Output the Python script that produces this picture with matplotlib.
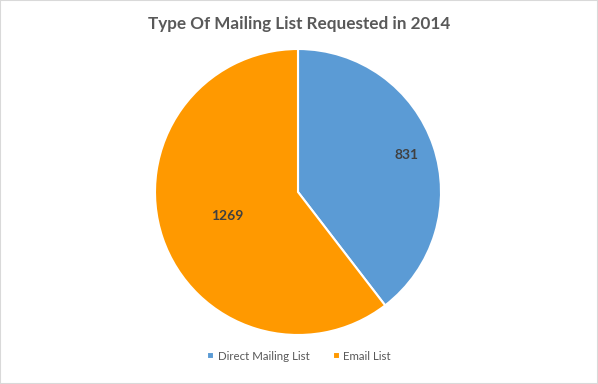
import numpy as np
import matplotlib.pyplot as plt
from matplotlib.patches import Rectangle

labels = ["Direct Mailing List", "Email List"]
values = [831, 1269]
colors = ["#5B9BD5", "#FF9900"]
label_dist = [0.80, 0.52]

plt.rcParams["font.family"] = ["Lato", "DejaVu Sans"]

fig = plt.figure(figsize=(5.98, 3.84), dpi=100)
ax = fig.add_axes([(298 - 143) / 598, 1 - (192 + 143) / 384, 286 / 598, 286 / 384])

wedges, _ = ax.pie(
    values,
    colors=colors,
    startangle=90,
    counterclock=False,
    wedgeprops=dict(edgecolor="white", linewidth=1.5),
)
for w, v, d in zip(wedges, values, label_dist):
    ang = np.deg2rad((w.theta1 + w.theta2) / 2)
    ax.text(d * np.cos(ang), d * np.sin(ang), str(v), ha="center", va="center",
            fontsize=10, fontweight="bold", color="#404040")
ax.set_aspect("equal")
ax.set_xlim(-1, 1)
ax.set_ylim(-1, 1)

fig.text(0.5, 1 - 24 / 384, "Type Of Mailing List Requested in 2014",
         ha="center", va="center", fontsize=12.3, fontweight="bold", color="#595959")

fig.legend(wedges, labels, loc="center", bbox_to_anchor=(0.5, 1 - 356 / 384),
           ncol=2, frameon=False, fontsize=8.3, handlelength=0.6, handleheight=0.6,
           handletextpad=0.3, columnspacing=2.0, labelcolor="#595959")

fig.patches.append(Rectangle((0, 0), 1, 1, transform=fig.transFigure,
                             fill=False, edgecolor="#D9D9D9", linewidth=1.5))

fig.savefig("out.png", dpi=100)
